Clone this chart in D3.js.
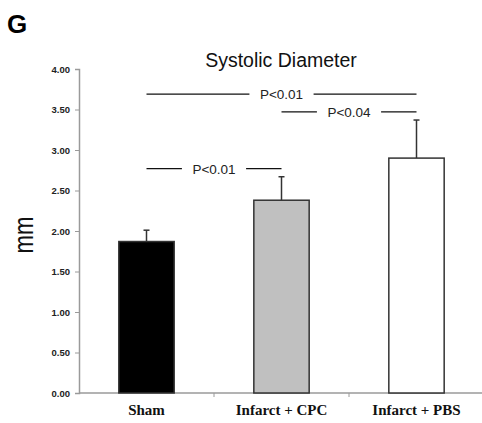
<!DOCTYPE html>
<html>
<head>
<meta charset="utf-8">
<script src="https://cdn.jsdelivr.net/npm/d3@7"></script>
<style>
  body { margin: 0; background: #fff; }
  svg { display: block; }
</style>
</head>
<body>
<svg id="chart" width="482" height="423"></svg>
<script>
// data
const categories = ['Sham', 'Infarct + CPC', 'Infarct + PBS'];
const means = [1.87, 2.38, 2.90];
const errors = [0.14, 0.29, 0.47];
const yTicks = [0, 0.5, 1, 1.5, 2, 2.5, 3, 3.5, 4];
// comparisons: from index, to index, label, height (mm)
const compFrom = [0, 1, 0];
const compTo = [2, 2, 1];
const compLabel = ['P<0.01', 'P<0.04', 'P<0.01'];
const compLevel = [3.69, 3.47, 2.77];

const barFills = ['#000000', '#c0c0c0', '#ffffff'];

const svg = d3.select('#chart');
const plotLeft = 79, plotRight = 484, plotTop = 69, plotBottom = 393;

const x = d3.scaleBand()
    .domain(categories)
    .range([plotLeft, plotRight])
    .paddingInner(0.59)
    .paddingOuter(0.295);

const y = d3.scaleLinear()
    .domain([0, 4])
    .range([plotBottom, plotTop]);

// letter
svg.append('text')
    .attr('x', 7)
    .attr('y', 33)
    .attr('font-family', 'Liberation Sans, Arial, sans-serif')
    .attr('font-weight', 'bold')
    .attr('font-size', 26)
    .text('G');

// title
svg.append('text')
    .attr('x', 281)
    .attr('y', 67)
    .attr('text-anchor', 'middle')
    .attr('font-family', 'Liberation Sans, Arial, sans-serif')
    .attr('font-size', 19.5)
    .attr('fill', '#111')
    .text('Systolic Diameter');

// y label
svg.append('text')
    .attr('transform', 'translate(33,235) rotate(-90)')
    .attr('text-anchor', 'middle')
    .attr('font-family', 'Liberation Sans, Arial, sans-serif')
    .attr('font-size', 27)
    .attr('textLength', 37)
    .attr('lengthAdjust', 'spacingAndGlyphs')
    .attr('fill', '#111')
    .text('mm');

// y axis
const yAxis = svg.append('g')
    .attr('transform', `translate(${plotLeft},0)`)
    .call(d3.axisLeft(y).tickValues(yTicks).tickFormat(d3.format('.2f')).tickSize(4).tickPadding(5));
yAxis.select('.domain').attr('stroke', '#9a9a9a').attr('stroke-width', 1.5);
yAxis.selectAll('.tick line').attr('stroke', '#9a9a9a');
yAxis.selectAll('.tick text')
    .attr('font-family', 'Liberation Sans, Arial, sans-serif')
    .attr('font-weight', 'bold')
    .attr('font-size', 9.5)
    .attr('fill', '#222');

// x axis
const xAxis = svg.append('g')
    .attr('transform', `translate(0,${plotBottom})`);
xAxis.append('line')
    .attr('x1', plotLeft).attr('x2', 482)
    .attr('stroke', '#9a9a9a').attr('stroke-width', 1.5);
xAxis.selectAll('.sep')
    .data(categories.slice(1))
    .enter()
    .append('line')
    .attr('class', 'sep')
    .attr('x1', d => x(d) - x.step() * x.paddingInner() / 2)
    .attr('x2', d => x(d) - x.step() * x.paddingInner() / 2)
    .attr('y1', 0).attr('y2', 4)
    .attr('stroke', '#9a9a9a');
xAxis.selectAll('.lab')
    .data(categories)
    .enter()
    .append('text')
    .attr('class', 'lab')
    .attr('x', d => x(d) + x.bandwidth() / 2)
    .attr('y', 22)
    .attr('text-anchor', 'middle')
    .attr('font-family', 'Liberation Serif, Times New Roman, serif')
    .attr('font-weight', 'bold')
    .attr('font-size', 15)
    .attr('fill', '#111')
    .text(d => d);

// error bars (drawn first, bar covers the lower part)
const eb = svg.selectAll('.err')
    .data(categories)
    .enter()
    .append('g')
    .attr('class', 'err');
eb.append('line')
    .attr('x1', d => x(d) + x.bandwidth() / 2)
    .attr('x2', d => x(d) + x.bandwidth() / 2)
    .attr('y1', (d, i) => y(means[i]))
    .attr('y2', (d, i) => y(means[i] + errors[i]))
    .attr('stroke', '#333').attr('stroke-width', 1.5);
eb.append('line')
    .attr('x1', d => x(d) + x.bandwidth() / 2 - 3)
    .attr('x2', d => x(d) + x.bandwidth() / 2 + 3)
    .attr('y1', (d, i) => y(means[i] + errors[i]))
    .attr('y2', (d, i) => y(means[i] + errors[i]))
    .attr('stroke', '#333').attr('stroke-width', 1.5);

// bars
svg.selectAll('.bar')
    .data(categories)
    .enter()
    .append('rect')
    .attr('class', 'bar')
    .attr('x', d => x(d))
    .attr('width', x.bandwidth())
    .attr('y', (d, i) => y(means[i]))
    .attr('height', (d, i) => plotBottom - y(means[i]))
    .attr('fill', (d, i) => barFills[i])
    .attr('stroke', '#333')
    .attr('stroke-width', 1.5);

// significance brackets
compLabel.forEach((lab, i) => {
    const x1 = x(categories[compFrom[i]]) + x.bandwidth() / 2;
    const x2 = x(categories[compTo[i]]) + x.bandwidth() / 2;
    const yy = y(compLevel[i]);
    const g = svg.append('g');
    const t = g.append('text')
        .attr('x', (x1 + x2) / 2)
        .attr('y', yy + 5)
        .attr('text-anchor', 'middle')
        .attr('font-family', 'Liberation Sans, Arial, sans-serif')
        .attr('font-size', 13.5)
        .attr('fill', '#222')
        .text(lab);
    const w = t.node().getComputedTextLength();
    const gap = w / 2 + 10.5;
    const mid = (x1 + x2) / 2;
    g.append('line')
        .attr('x1', x1).attr('x2', mid - gap)
        .attr('y1', yy).attr('y2', yy)
        .attr('stroke', '#111').attr('stroke-width', 1.3);
    g.append('line')
        .attr('x1', mid + gap).attr('x2', x2)
        .attr('y1', yy).attr('y2', yy)
        .attr('stroke', '#111').attr('stroke-width', 1.3);
});
</script>
</body>
</html>
